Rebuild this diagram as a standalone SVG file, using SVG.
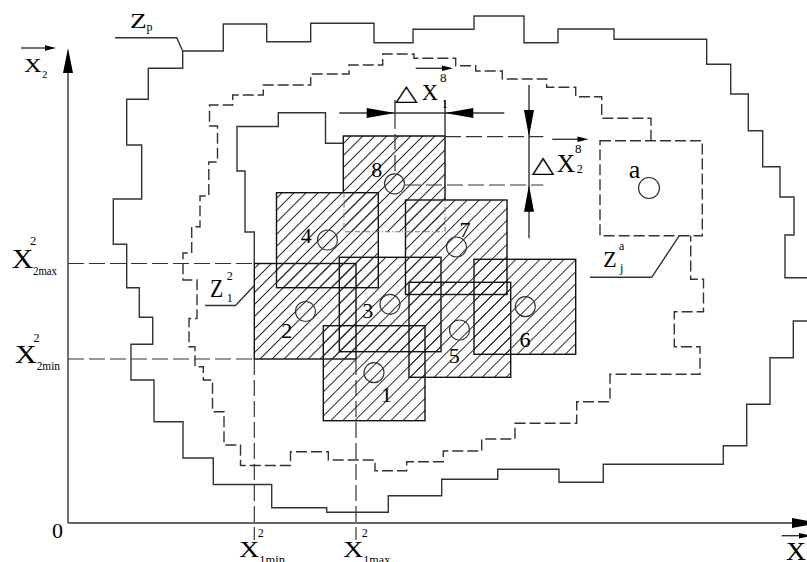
<svg xmlns="http://www.w3.org/2000/svg" width="807" height="562" viewBox="0 0 807 562">
<defs>
<pattern id="hatch" patternUnits="userSpaceOnUse" width="8.5" height="8.5" patternTransform="rotate(45)">
<line x1="4.25" y1="-1" x2="4.25" y2="9.5" stroke="#222" stroke-width="1"/>
</pattern>
</defs>
<style>
.ln{fill:none;stroke:#333;stroke-width:1.4}
.dsh{fill:none;stroke:#333;stroke-width:1.4;stroke-dasharray:11 4}
.ref{fill:none;stroke:#333;stroke-width:1.2;stroke-dasharray:16 5}
.sq{fill:url(#hatch);stroke:#111;stroke-width:1.4}
.dot{fill:none;stroke:#777;stroke-width:1.1;stroke-dasharray:5 2 1 2}
.c{fill:none;stroke:#333;stroke-width:1.2}
.ah{fill:#000;stroke:none}
.tri{font-family:"DejaVu Sans",sans-serif}
.n{font-size:22px;text-anchor:middle}
.s{font-size:12px}
</style>
<rect width="807" height="562" fill="#fff"/>

<g id="axes">
<line class="ln" x1="68" y1="523" x2="68" y2="70"/>
<polygon class="ah" points="68,48 63,73 73,73"/>
<line class="ln" x1="68" y1="523" x2="795" y2="523"/>
<polygon class="ah" points="820,523 792,518 792,528"/>
<text x="52" y="538" font-size="22" font-family="Liberation Serif, serif">0</text>
</g>

<g id="zone-p">
<path class="ln" d="M182.7,51 H223.3 V24 H266.7 V41.7 H310.7 V23.3 H374 V42.7 H413 V29.3 H474 V16 H524 V42.7 H558 V29 H614 V39.3 H706.7 V64.3 H730.7 V94 H748.3 V130.7 H762.7 V166.7 H780 V197 H794 V235 H785 V277.7 H812"/>
<path class="ln" d="M812,321 H793.3 V357.7 H770 V404.3 H746.7 V445.7 H723.3 V464.3 H603.3 V482.3 H559 V469.3 H497.7 V479.3 H441.7 V495.7 H388.3 V512.3 H326.7 V507.7 H271.7 V484.5 H213.3 V458 H183 V421.7 H154 V380 H131 V344.3 H152.7 V317.3 H139.3 V287.7 H126.7 V244.3 H113.3 V199 H141.7 V145 H126.7 V99.3 H148.3 V68.3 H182.7 V51"/>
</g>

<g id="zone-dashed">
<path class="dsh" d="M651,140.7 V118.3 H601.7 V96.7 H575.7 V87.3 H546.7 V79 H502.3 V71 H475.7 V65.7 H455.7 V58.3 H414 V54 H382.7 V65 H349 V74 H310.7 V85 H263.3 V95 H232.7 V105 H209.5 V126 H217.5 V162 H208.8 V196 H200 V226.7 H191.7 V253 H183 V280 H197 V318.5 H189 V346.7 H195 V366.7 H203.3 V380 H212.5 V411.7 H224 V445 H240.5 V465.5 H290.5 V451.7 H328.3 V460 H375 V470.7 H406.7 V461.7 H443.3 V451 H481.7 V439 H515 V423.3 H576.7 V401.7 H610 V374.3 H700 V346.7 H674.3 V311.7 H703.5 V279.3 H690.7 V235.7"/>
</g>

<g id="zone-inner">
<path class="ln" d="M254.3,263.5 V232 H245 V171 H237 V126.5 H278.3 V112.7 H325.5 V143.3 H343.3"/>
</g>

<g id="zone-a" font-family="Liberation Serif, serif">
<rect class="dsh" x="600" y="140.7" width="102.3" height="95"/>
<circle class="c" cx="649" cy="188" r="10.5"/>
<text x="634.5" y="178" font-size="26" text-anchor="middle">a</text>
</g>

<g font-family="Liberation Serif, serif">
<g id="sq2"><rect class="sq" x="254.3" y="263.5" width="101.7" height="95.5"/><circle class="c" cx="305.5" cy="311.5" r="10"/><text class="n" x="286.7" y="338.3">2</text></g>
<g id="sq1"><rect class="sq" x="323.3" y="325.7" width="101.7" height="95"/><circle class="c" cx="374" cy="372.7" r="10"/><text class="n" x="386.5" y="401.7">1</text></g>
<g id="sq3"><rect class="sq" x="339.3" y="257.3" width="101.7" height="94.4"/><circle class="c" cx="390" cy="304.3" r="10"/><text class="n" x="367.8" y="318">3</text></g>
<g id="sq4"><rect class="sq" x="276.5" y="192.7" width="101.8" height="95"/><circle class="c" cx="327.5" cy="240" r="10"/><text class="n" x="306.2" y="243.3">4</text></g>
<g id="sq5"><rect class="sq" x="409" y="282.3" width="101.7" height="95"/><circle class="c" cx="459.5" cy="330" r="10"/><text class="n" x="454.2" y="363">5</text></g>
<g id="sq6"><rect class="sq" x="474" y="259.3" width="101.7" height="95"/><circle class="c" cx="525.3" cy="306.7" r="10"/><text class="n" x="525" y="346.7">6</text></g>
<g id="sq7"><rect class="sq" x="405.5" y="200" width="101.5" height="94.5"/><circle class="c" cx="456.5" cy="247" r="10"/><text class="n" x="465" y="236.7">7</text></g>
<g id="sq8">
<rect x="343.3" y="136" width="101.7" height="95.7" fill="url(#hatch)"/>
<path d="M343.3,192.7 V136 H445 V200" fill="none" stroke="#111" stroke-width="1.4"/>
<path class="dot" d="M344,192.7 V231.7 H445 V200"/>
<circle class="c" cx="394.5" cy="183.8" r="10"/>
<text class="n" x="376.7" y="176.7">8</text>
</g>
</g>

<g id="connectors">
<line class="ref" x1="68" y1="263.5" x2="254" y2="263.5"/>
<line class="ref" x1="68" y1="359" x2="254" y2="359"/>
<line class="ref" x1="254.3" y1="359" x2="254.3" y2="540"/>
<line class="ref" x1="356" y1="359" x2="356" y2="540"/>
<line class="ln" x1="339.3" y1="113" x2="504.3" y2="113"/>
<polygon class="ah" points="395,113 366.7,108 366.7,118"/>
<polygon class="ah" points="445,113 473.3,108 473.3,118"/>
<line class="ln" x1="395" y1="100" x2="395" y2="113"/>
<line class="ref" x1="395" y1="113" x2="395" y2="173"/>
<line class="ln" x1="445" y1="100" x2="445" y2="136"/>
<line class="ln" x1="529" y1="85" x2="529" y2="238.3"/>
<polygon class="ah" points="529,136.7 524,110 534,110"/>
<polygon class="ah" points="529,185 524,211.7 534,211.7"/>
<line class="ref" x1="445" y1="136.7" x2="543.3" y2="136.7"/>
<line class="ref" x1="405" y1="185" x2="543.3" y2="185"/>
<path class="ln" d="M115,37.7 H176.7 L182.7,51"/>
<path class="ln" d="M205,305.5 H235.5 L254.3,285.5"/>
<path class="ln" d="M590,277.3 H651.7 L679.3,235.7"/>
<line class="ln" x1="21" y1="48" x2="48" y2="48"/>
<polygon class="ah" points="56,48 45,45.3 45,50.7"/>
<line class="ln" x1="415.7" y1="68.3" x2="445" y2="68.3"/>
<polygon class="ah" points="453,68.3 442,65.6 442,71"/>
<line class="ln" x1="552.3" y1="139.3" x2="580" y2="139.3"/>
<polygon class="ah" points="588.5,139.3 577.5,136.6 577.5,142"/>
<line class="ln" x1="781.7" y1="535.7" x2="800" y2="535.7"/>
<polygon class="ah" points="812,535.7 799,533 799,538.4"/>
</g>

<g id="labels" font-family="Liberation Serif, serif" fill="#000">
<text x="24" y="71.7" font-size="18" textLength="17.7" lengthAdjust="spacingAndGlyphs">X</text>
<text x="42" y="78" font-size="11">2</text>
<text x="130" y="28.3" font-size="20" textLength="16.7" lengthAdjust="spacingAndGlyphs">Z</text>
<text x="146.5" y="31" class="s">p</text>

<text class="tri" x="395" y="100" font-size="22" textLength="22.7" lengthAdjust="spacingAndGlyphs">△</text>
<text x="421.7" y="100" font-size="22.6" textLength="16.3" lengthAdjust="spacingAndGlyphs">X</text>
<text x="440" y="81.7" font-size="13">8</text>
<text x="441.7" y="108" class="s">1</text>

<text class="tri" x="531.7" y="171.7" font-size="23" textLength="22.6" lengthAdjust="spacingAndGlyphs">△</text>
<text x="556.7" y="172" font-size="25.5" textLength="18.3" lengthAdjust="spacingAndGlyphs">X</text>
<text x="575" y="152.7" font-size="13">8</text>
<text x="576.7" y="173.3" class="s">2</text>

<text x="11.7" y="268.3" font-size="27.5" textLength="21.6" lengthAdjust="spacingAndGlyphs">X</text>
<text x="30" y="245" font-size="12.5">2</text>
<text x="33" y="275" class="s" textLength="24" lengthAdjust="spacingAndGlyphs">2max</text>

<text x="15" y="363.3" font-size="25" textLength="21.7" lengthAdjust="spacingAndGlyphs">X</text>
<text x="33.5" y="342" class="s">2</text>
<text x="36.7" y="370" class="s" textLength="23.3" lengthAdjust="spacingAndGlyphs">2min</text>

<text x="239.3" y="556.7" font-size="22.7" textLength="20" lengthAdjust="spacingAndGlyphs">X</text>
<text x="257.7" y="536.7" class="s">2</text>
<text x="259.3" y="564" class="s" textLength="25.7" lengthAdjust="spacingAndGlyphs">1min</text>

<text x="343.3" y="556.7" font-size="22.7" textLength="20" lengthAdjust="spacingAndGlyphs">X</text>
<text x="361.7" y="536.7" class="s">2</text>
<text x="363.3" y="564" class="s" textLength="27" lengthAdjust="spacingAndGlyphs">1max</text>

<text x="786" y="560" font-size="25" textLength="20" lengthAdjust="spacingAndGlyphs">X</text>
<text x="806" y="566" class="s">1</text>

<text x="210" y="296.7" font-size="25" textLength="13.3" lengthAdjust="spacingAndGlyphs">Z</text>
<text x="226.7" y="280" class="s">2</text>
<text x="226.7" y="301.7" class="s">1</text>

<text x="603.3" y="266.7" font-size="22.7" textLength="13.4" lengthAdjust="spacingAndGlyphs">Z</text>
<text x="619" y="250" class="s">a</text>
<text x="620" y="272" class="s">j</text>
</g>
</svg>
